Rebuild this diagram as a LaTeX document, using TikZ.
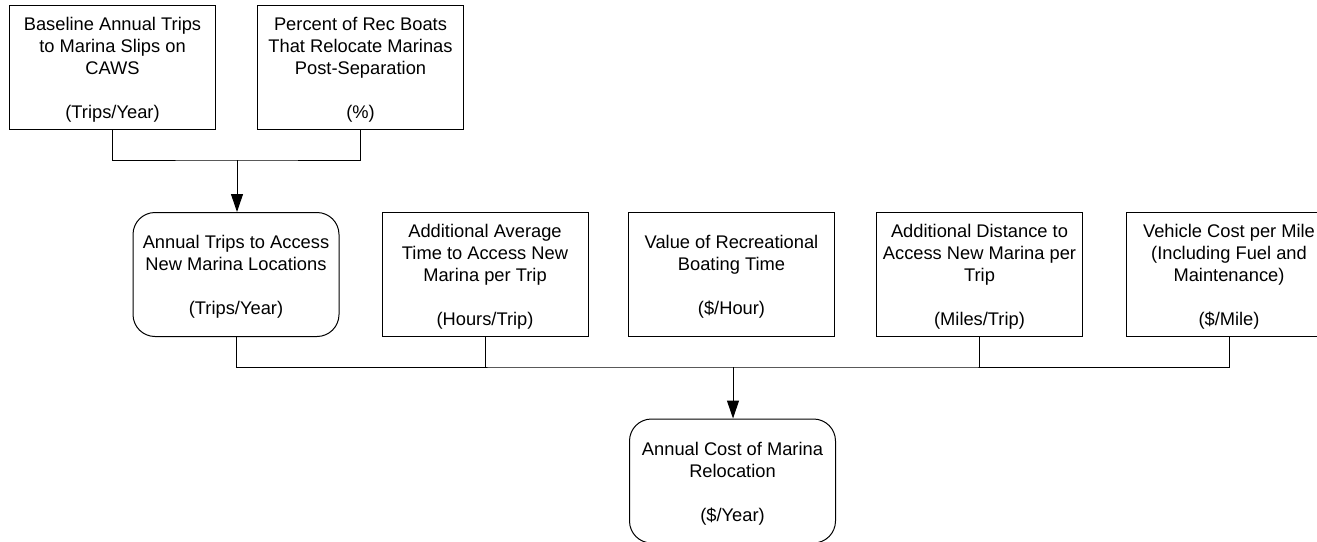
\documentclass[tikz,border=0pt]{standalone}
\usepackage{fontspec}
\setmainfont{Liberation Sans}
\usetikzlibrary{arrows.meta}
\newcommand{\Tup}{\rule{0pt}{18.6pt}}
\begin{document}
\begin{tikzpicture}[x=1pt,y=-1pt,
  every node/.style={font=\fontsize{18.3}{22}\selectfont, align=center, inner sep=0pt},
  sqbox/.style={draw, line width=1pt, minimum width=206pt, minimum height=124pt},
  rndbox/.style={sqbox, rounded corners=22pt},
  conn/.style={line width=1pt},
  arr/.style={line width=1pt, -{Triangle[length=18pt,width=12pt]}}]
\useasboundingbox (0,0) rectangle (1317,541);
\clip (0,0) rectangle (1317,541);
\fill[white] (0,0) rectangle (1317,541);
% top row
\node[sqbox] (b1) at (112.5,67) {\Tup Baseline Annual Trips\\to Marina Slips on\\CAWS\\[22pt](Trips/Year)};
\node[sqbox] (b2) at (360.5,67) {\Tup Percent of Rec Boats\\That Relocate Marinas\\Post-Separation\\[22pt](\%)};
% middle row
\node[rndbox] (m1) at (236,274.5) {\Tup Annual Trips to Access\\New Marina Locations\\[22pt](Trips/Year)};
\node[sqbox] (m2) at (485,274.5) {\Tup Additional Average\\Time to Access New\\Marina per Trip\\[22pt](Hours/Trip)};
\node[sqbox] (m3) at (731.5,274.5) {\Tup Value of Recreational\\Boating Time\\[22pt](\$/Hour)};
\node[sqbox] (m4) at (979.5,274.5) {\Tup Additional Distance to\\Access New Marina per\\Trip\\[22pt](Miles/Trip)};
\node[sqbox] (m5) at (1229,274.5) {\Tup Vehicle Cost per Mile\\(Including Fuel and\\Maintenance)\\[22pt](\$/Mile)};
% bottom
\node[rndbox] (r) at (732.5,481) {\Tup Annual Cost of Marina\\Relocation\\[22pt](\$/Year)};
% junctions
\coordinate (j1) at (237,160);
\coordinate (j2) at (733,367);
% top connectors
\draw[conn] (b1.south) |- (j1) -| (b2.south);
\draw[arr] (j1) -- (j1 |- m1.north);
% bottom connectors
\draw[conn] (m1.south) |- (j2) -| (m5.south);
\draw[conn] (m2.south) -- (m2.south |- j2);
\draw[conn] (m4.south) -- (m4.south |- j2);
\draw[arr] (j2) -- (j2 |- r.north);
\end{tikzpicture}
\end{document}
